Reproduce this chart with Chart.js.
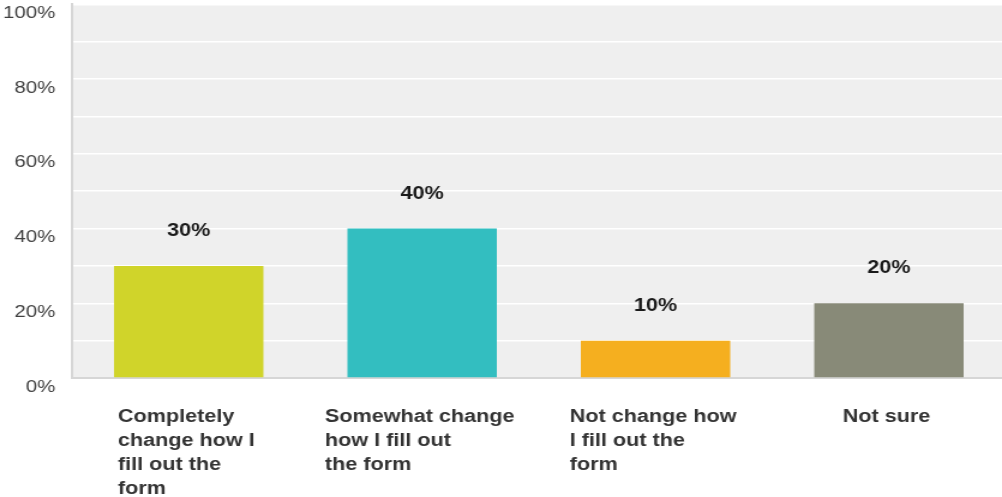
<!DOCTYPE html>
<html>
<head>
<meta charset="utf-8">
<script src="https://cdn.jsdelivr.net/npm/chart.js@4"></script>
<style>
  html, body { margin: 0; padding: 0; background: #ffffff; overflow: hidden; width: 1002px; height: 497px; }
  #wrap { transform: scaleX(1.2); transform-origin: 0 0; width: 838px; height: 497px; }
  canvas { display: block; }
</style>
</head>
<body>
<div id="wrap"><canvas id="c" width="838" height="497" style="width:838px;height:497px"></canvas></div>
<script>
// ---- data ----
const categories = [
  ['Completely', 'change how I', 'fill out the', 'form'],
  ['Somewhat change', 'how I fill out', 'the form'],
  ['Not change how', 'I fill out the', 'form'],
  ['Not sure']
];
const values = [30, 40, 10, 20];
const barColors = ['#d0d42a', '#33bec0', '#f5af1f', '#888a78'];
const yTickValues = [0, 20, 40, 60, 80, 100];
const yTickLabels = ['0%', '20%', '40%', '60%', '80%', '100%'];

const FONT = "'Liberation Sans', Arial, Helvetica, sans-serif";

const plotBackground = {
  id: 'plotBackground',
  beforeDraw(chart) {
    const { ctx, chartArea: a } = chart;
    ctx.save();
    ctx.fillStyle = '#efefef';
    ctx.fillRect(a.left, a.top, a.right - a.left, a.bottom - a.top);
    ctx.restore();
  }
};

const labelsPlugin = {
  id: 'labelsPlugin',
  afterDraw(chart) {
    const { ctx } = chart;
    const xs = chart.scales.x;
    const ys = chart.scales.y;
    ctx.save();
    // value labels above bars
    ctx.font = 'bold 18px ' + FONT;
    ctx.fillStyle = '#1a1a1a';
    ctx.textAlign = 'center';
    ctx.textBaseline = 'alphabetic';
    values.forEach((v, i) => {
      const x = xs.getPixelForValue(i);
      const y = ys.getPixelForValue(v);
      ctx.fillText(v + '%', x, y - 30);
    });
    // category labels: left-aligned lines, block centred on category
    ctx.fillStyle = '#333333';
    ctx.textAlign = 'left';
    categories.forEach((lines, i) => {
      const cx = xs.getPixelForValue(i) - 2;
      const w = Math.max(...lines.map(l => ctx.measureText(l).width));
      const left = cx - w / 2;
      lines.forEach((l, j) => {
        ctx.fillText(l, left, xs.top + 43.5 + j * 24);
      });
    });
    ctx.restore();
  }
};

new Chart(document.getElementById('c'), {
  type: 'bar',
  data: {
    labels: categories.map(c => c.join(' ')),
    datasets: [{
      data: values,
      backgroundColor: barColors,
      borderWidth: 0,
      barPercentage: 0.64,
      categoryPercentage: 1.0
    }]
  },
  options: {
    responsive: false,
    animation: false,
    layout: { padding: { top: 4.3, right: 0, left: 0, bottom: 0 } },
    plugins: { legend: { display: false }, tooltip: { enabled: false } },
    scales: {
      x: {
        grid: { display: false, drawTicks: false },
        border: { display: true, color: '#d6d6d6', width: 2 },
        ticks: { display: false },
        afterFit(s) { s.height = 119; s.paddingLeft = 0; s.paddingRight = 0; }
      },
      y: {
        min: 0,
        max: 100,
        grid: { color: '#ffffff', lineWidth: 1.5, drawTicks: false },
        border: { display: true, color: '#d6d6d6', width: 2 },
        ticks: {
          stepSize: 10,
          padding: 14,
          labelOffset: 9,
          color: '#404040',
          font: { family: FONT, size: 17 },
          callback: (v) => {
            const k = yTickValues.indexOf(v);
            return k >= 0 ? yTickLabels[k] : '';
          }
        },
        afterFit(s) { s.width = 60; s.paddingTop = 0; s.paddingBottom = 0; }
      }
    }
  },
  plugins: [plotBackground, labelsPlugin]
});
</script>
</body>
</html>
